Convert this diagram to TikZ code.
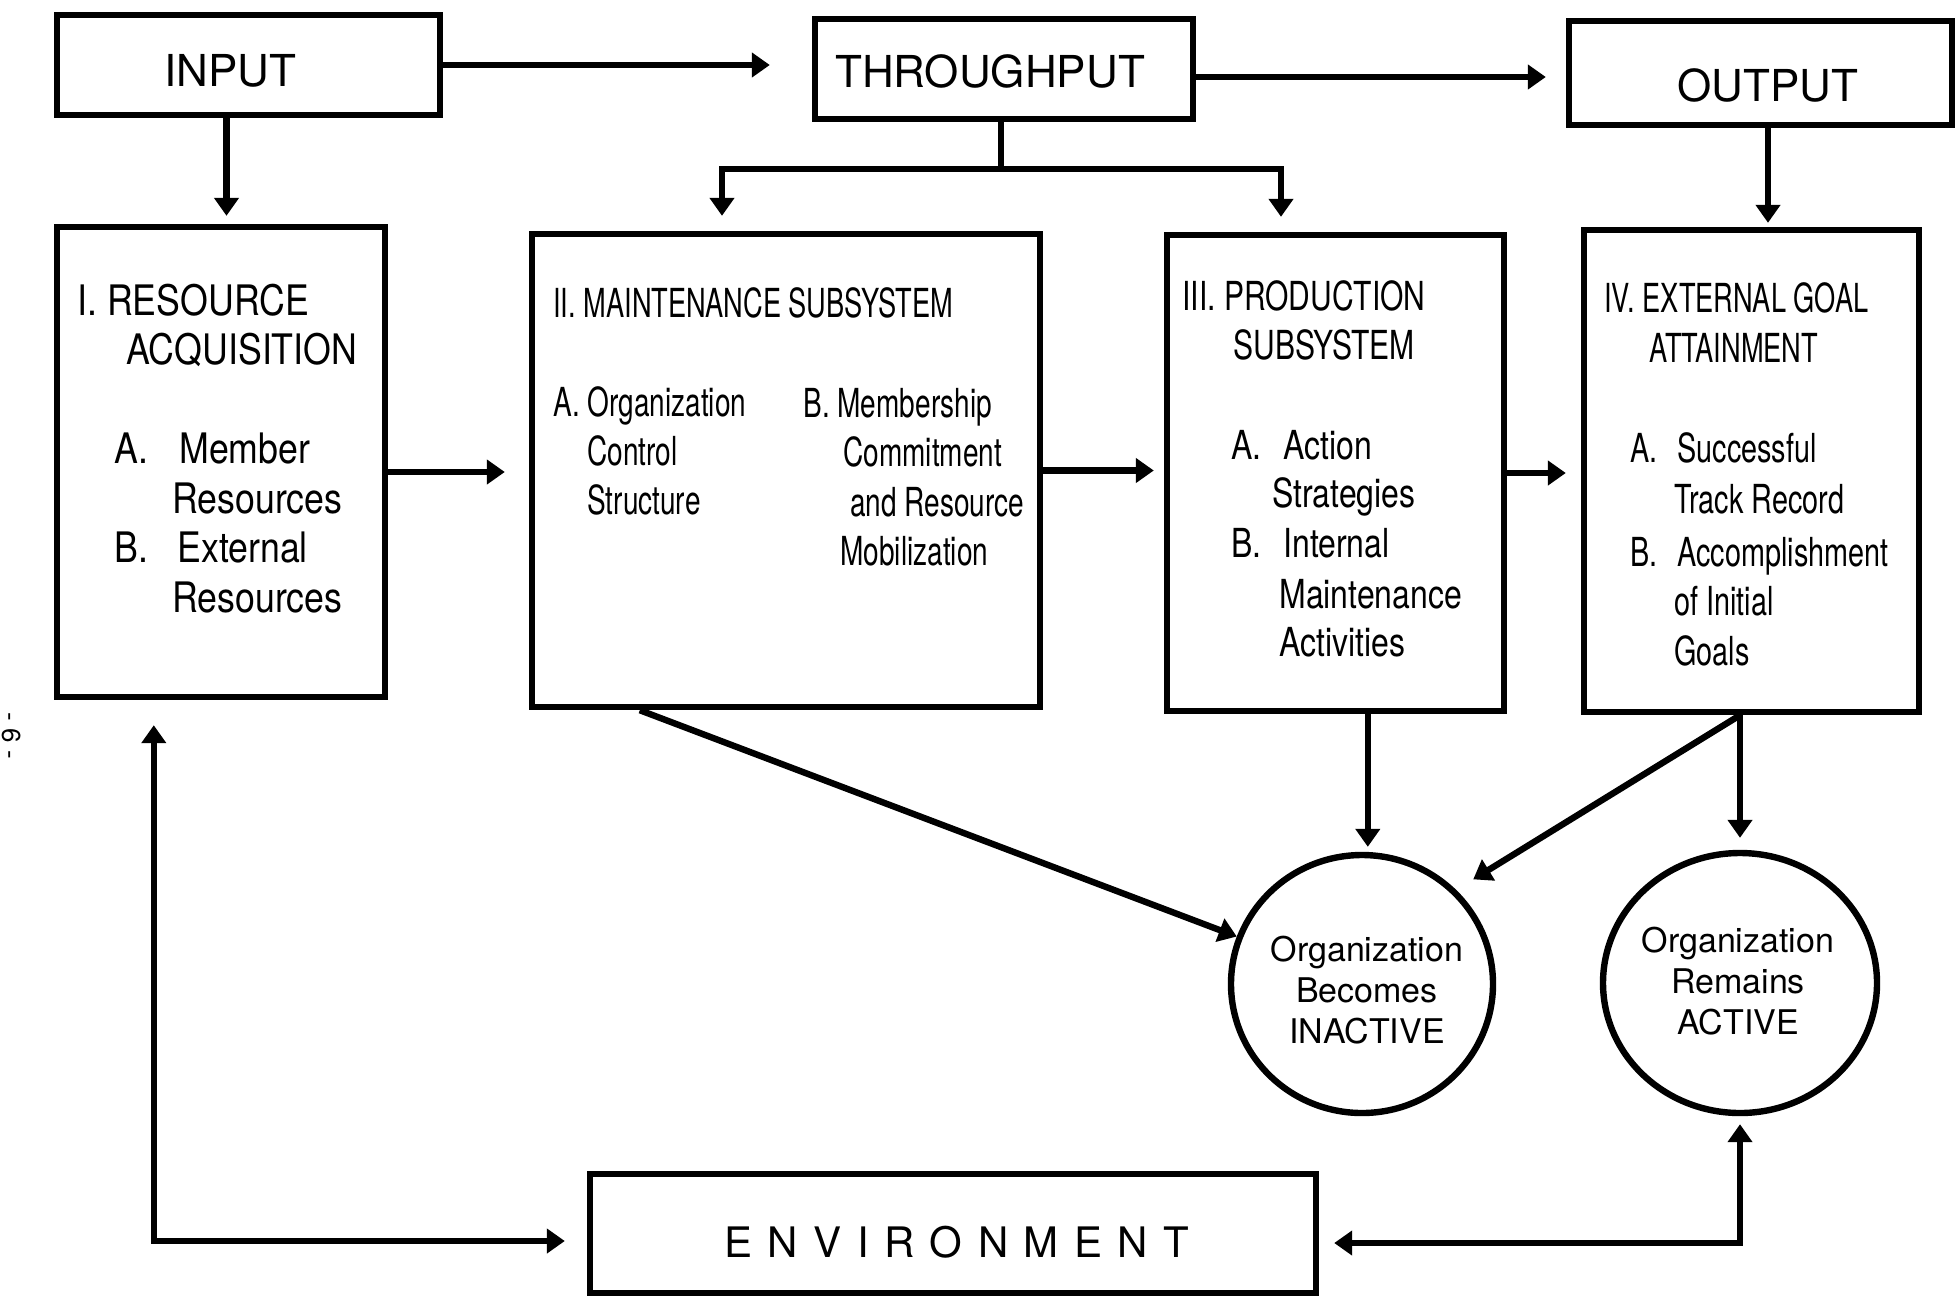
\documentclass[tikz,border=0pt]{standalone}
\usepackage{fontspec}
\setmainfont{TeX Gyre Heros}
\newfontfamily\fntA[FakeStretch=0.85]{TeX Gyre Heros}
\newfontfamily\fntT[FakeStretch=0.68]{TeX Gyre Heros}
\newfontfamily\fntB[FakeStretch=0.70]{TeX Gyre Heros}
\newfontfamily\fntCt[FakeStretch=0.75]{TeX Gyre Heros}
\newfontfamily\fntC[FakeStretch=0.80]{TeX Gyre Heros}
\newfontfamily\fntD[FakeStretch=0.72]{TeX Gyre Heros}
\newfontfamily\fntE[LetterSpace=37]{TeX Gyre Heros}
\usetikzlibrary{arrows.meta,shapes.geometric,calc}
\begin{document}
\begin{tikzpicture}[x=0.5pt,y=-0.5pt,
  box/.style={draw, line width=3.2pt, inner sep=0pt},
  ell/.style={draw, ellipse, line width=3.2pt, inner sep=0pt},
  ln/.style={line width=3.2pt},
  arr/.style={line width=3.2pt, -{Triangle[length=9pt,width=12pt]}},
  darr/.style={line width=3.2pt, {Triangle[length=9pt,width=12pt]}-{Triangle[length=9pt,width=12pt]}},
  tx/.style={anchor=base west, inner sep=0pt},
  big/.style={anchor=base, inner sep=0pt, font=\fontsize{22}{26}\selectfont},
  ta/.style={tx, font=\fntA\fontsize{21}{25}\selectfont},
  tt/.style={tx, font=\fntT\fontsize{20}{24}\selectfont},
  tb/.style={tx, font=\fntB\fontsize{20}{24}\selectfont},
  tct/.style={tx, font=\fntCt\fontsize{20}{24}\selectfont},
  tc/.style={tx, font=\fntC\fontsize{20}{24}\selectfont},
  td/.style={tx, font=\fntD\fontsize{20}{24}\selectfont},
  et/.style={align=center, inner sep=0pt, font=\fontsize{17}{20.5}\selectfont}
]
\useasboundingbox (0,0) rectangle (1959,1297);

% boxes
\node[box, minimum width=191.5pt, minimum height=50pt] (inp) at (248.5,65) {};
\node[box, minimum width=189pt, minimum height=50pt] (thr) at (1004,69) {};
\node[box, minimum width=191.5pt, minimum height=52pt] (out) at (1760.5,73) {};
\node[box, minimum width=164pt, minimum height=235pt] (b1) at (221,462) {};
\node[box, minimum width=254pt, minimum height=236.5pt] (b2) at (786,470.5) {};
\node[box, minimum width=168.5pt, minimum height=238pt] (b3) at (1335.5,473) {};
\node[box, minimum width=167.5pt, minimum height=241pt] (b4) at (1751.5,471) {};
\node[box, minimum width=363pt, minimum height=59.5pt] (env) at (953,1233.5) {};
\node[ell, minimum width=131pt, minimum height=129pt] (ell1) at (1362,984) {};
\node[ell, minimum width=137pt, minimum height=130pt] (ell2) at (1740,983) {};

% big labels
\node[big] (tin) at (230,86) {INPUT};
\node[big] (tthr) at (990,87) {THROUGHPUT};
\node[big] (tout) at (1768,101) {OUTPUT};
\node[tx, font=\fntE\fontsize{21}{25}\selectfont] (tenv) at (724,1257) {ENVIRONMENT};

% box I
\node[ta] (a1) at (77,315) {I. RESOURCE};
\node[ta] (a2) at (126,364) {ACQUISITION};
\node[ta] (a3) at (114,463) {A.};
\node[ta] (a4) at (179,463) {Member};
\node[ta] (a5) at (172,513) {Resources};
\node[ta] (a6) at (114,562) {B.};
\node[ta] (a7) at (177,562) {External};
\node[ta] (a8) at (172,612) {Resources};

% box II
\node[tt] (m1) at (553,317) {II. MAINTENANCE SUBSYSTEM};
\node[tb] (m2) at (553,416) {A. Organization};
\node[tb] (m3) at (587,465) {Control};
\node[tb] (m4) at (587,514) {Structure};
\node[tb] (m5) at (803,417) {B. Membership};
\node[tb] (m6) at (843,466) {Commitment};
\node[tb] (m7) at (850,516) {and Resource};
\node[tb] (m8) at (840,565) {Mobilization};

% box III
\node[tct] (p1) at (1182,310) {III. PRODUCTION};
\node[tct] (p2) at (1233,359) {SUBSYSTEM};
\node[tc] (p3) at (1231,459) {A.};
\node[tc] (p4) at (1283,459) {Action};
\node[tc] (p5) at (1272,507) {Strategies};
\node[tc] (p6) at (1231,557) {B.};
\node[tc] (p7) at (1283,557) {Internal};
\node[tc] (p8) at (1279,608) {Maintenance};
\node[tc] (p9) at (1279,656) {Activities};

% box IV
\node[tt] (g1) at (1604,312) {IV. EXTERNAL GOAL};
\node[tt] (g2) at (1649,362) {ATTAINMENT};
\node[td] (g3) at (1630,462) {A.};
\node[td] (g4) at (1677,462) {Successful};
\node[td] (g5) at (1674,513) {Track Record};
\node[td] (g6) at (1630,566) {B.};
\node[td] (g7) at (1677,566) {Accomplishment};
\node[td] (g8) at (1674,615) {of Initial};
\node[td] (g9) at (1674,665) {Goals};

% ellipse texts
\node[et] (e1t) at ($(ell1.center)+(5,6)$) {Organization\\Becomes\\INACTIVE};
\node[et] (e2t) at ($(ell2.center)+(-2,-2)$) {Organization\\Remains\\ACTIVE};

% page number
\node[rotate=-90, inner sep=0pt, font=\fontsize{13}{15}\selectfont] (pg) at (12,736) {- 6 -};

% connectors
\draw[arr, shorten >=21pt] (inp.east) -- (thr.west |- inp.east);
\coordinate (t2) at ($(thr.east)+(0,8)$);
\draw[arr, shorten >=10pt] (t2) -- (out.west |- t2);
\coordinate (i1) at ($(inp.south)+(-22,0)$);
\draw[arr, shorten >=4pt] (i1) -- (i1 |- b1.north);
\coordinate (sp) at ($(thr.south)+(-3,47)$);
\draw[ln] (sp |- thr.south) -- (sp);
\draw[arr, shorten >=7.5pt] (sp) -| ($(b2.north)+(-64,0)$);
\draw[arr, shorten >=7.5pt] (sp) -| ($(b3.north)+(-54.5,0)$);
\coordinate (o1) at ($(out.south)+(7.5,0)$);
\draw[arr, shorten >=2pt] (o1) -- (o1 |- b4.north);
\coordinate (c12) at ($(b1.east)+(0,10)$);
\draw[arr, shorten >=12pt] (c12) -- (c12 -| b2.west);
\draw[arr, shorten >=5pt] (b2.east) -- (b2.east -| b3.west);
\draw[arr, shorten >=7.5pt] (b3.east) -- (b3.east -| b4.west);
\draw[arr] ($(b2.south west)+(111,0)$) -- (ell1);
\coordinate (c3) at ($(b3.south west)+(204,0)$);
\draw[arr, shorten >=2.5pt] (c3) -- (c3 |- ell1.north);
\coordinate (c4) at (ell2.north |- b4.south);
\draw[arr, shorten >=10pt] (c4) -- (ell1.45);
\draw[arr, shorten >=6pt] (c4) -- (ell2.north);
\coordinate (eL) at ($(b1.south west)+(100,0)$);
\draw[darr, shorten <=12.5pt, shorten >=11pt] (eL) |- ($(env.west)+(0,7.5)$);
\draw[darr, shorten <=7.5pt, shorten >=4pt] ($(env.east)+(0,9.5)$) -| (ell2.south);
\end{tikzpicture}
\end{document}
